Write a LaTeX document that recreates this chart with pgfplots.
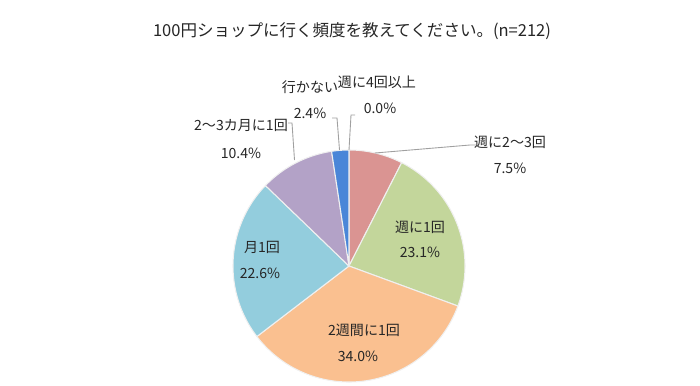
\documentclass[border=0pt]{standalone}
\usepackage{pgfplots}
\usepackage{pgfplotstable}
\pgfplotsset{compat=1.18}
\usepackage{fontspec}
\setmainfont{Noto Sans CJK JP}
\definecolor{c0}{HTML}{4A86D8}
\definecolor{c1}{HTML}{DA9492}
\definecolor{c2}{HTML}{C3D69B}
\definecolor{c3}{HTML}{FAC090}
\definecolor{c4}{HTML}{93CDDD}
\definecolor{c5}{HTML}{B3A2C7}
\definecolor{c6}{HTML}{4A86D8}
\definecolor{txt}{HTML}{262626}
\definecolor{lead}{HTML}{A0A0A0}
\pgfplotstableread{
value col
0.0 c0
7.5 c1
23.1 c2
34.0 c3
22.6 c4
10.4 c5
2.4 c6
}\piedata
\begin{document}
\begin{tikzpicture}
\begin{axis}[
  scale only axis, width=14cm, height=7.7cm,
  xmin=0, xmax=700, ymin=0, ymax=385,
  hide axis, clip=false,
]
\path (rel axis cs:0,0) rectangle (rel axis cs:1,1);
\def\acc{0}
\pgfplotsforeachungrouped \i in {0,...,6}{%
  \pgfplotstablegetelem{\i}{value}\of\piedata \let\v\pgfplotsretval
  \pgfplotstablegetelem{\i}{col}\of\piedata \let\c\pgfplotsretval
  \pgfmathsetmacro\a{90-3.6*\acc}%
  \pgfmathsetmacro\b{90-3.6*(\acc+\v)}%
  \pgfmathparse{\v>0?1:0}%
  \ifnum\pgfmathresult=1
    \edef\temp{\noexpand\addplot[fill=\c, draw=white!88!gray, line width=0.6pt, domain=\b:\a, samples=80, variable=\noexpand\t] ({349+116*cos(\noexpand\t)},{119+116*sin(\noexpand\t)}) -- (axis cs:349,119) -- cycle;}%
    \temp
  \fi
  \pgfmathsetmacro\acc{\acc+\v}%
}
% leader lines
\draw[lead, line width=0.5pt] (axis cs:288,262) -- (axis cs:292,262) -- (axis cs:294.5,225);
\draw[lead, line width=0.5pt] (axis cs:332,267) -- (axis cs:337,267) -- (axis cs:339.5,235);
\draw[lead, line width=0.5pt] (axis cs:355,270) -- (axis cs:351,270) -- (axis cs:349,235);
\draw[lead, line width=0.5pt] (axis cs:375,232) -- (axis cs:470,240) -- (axis cs:476,240);
% title
\node[txt, font=\fontsize{9.4}{11}\selectfont] at (axis cs:352,354) {100円ショップに行く頻度を教えてください。(n=212)};
% labels
\tikzset{lab/.style={txt, font=\fontsize{8}{9.6}\selectfont, inner sep=0pt}}
\node[lab] at (axis cs:310,298) {行かない};
\node[lab] at (axis cs:310,272) {2.4\%};
\node[lab] at (axis cs:377,303) {週に4回以上};
\node[lab] at (axis cs:380,277) {0.0\%};
\node[lab] at (axis cs:241,260) {2〜3カ月に1回};
\node[lab] at (axis cs:241,232) {10.4\%};
\node[lab] at (axis cs:510,243) {週に2〜3回};
\node[lab] at (axis cs:510,217) {7.5\%};
\node[lab] at (axis cs:420,158) {週に1回};
\node[lab] at (axis cs:420,133) {23.1\%};
\node[lab] at (axis cs:262,138) {月1回};
\node[lab] at (axis cs:260,112) {22.6\%};
\node[lab] at (axis cs:364,55) {2週間に1回};
\node[lab] at (axis cs:358,29) {34.0\%};
\end{axis}
\end{tikzpicture}
\end{document}
